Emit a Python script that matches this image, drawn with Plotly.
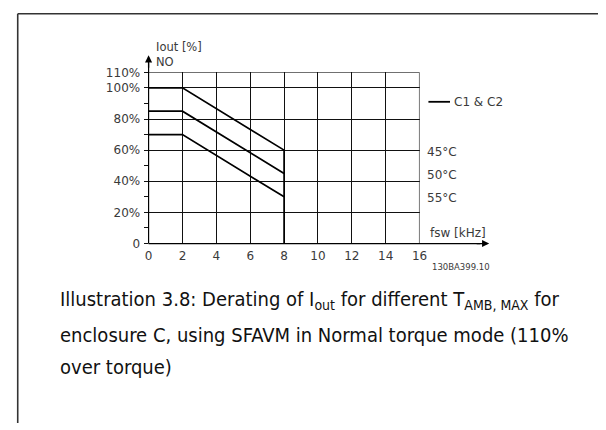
import plotly.graph_objects as go

W, H = 606, 430

# Derating curves: output current (% of nominal) vs switching frequency (kHz)
fsw_45 = [0, 2, 8, 8]
iout_45 = [100, 100, 60, 0]
fsw_50 = [0, 2, 8]
iout_50 = [85, 85, 45]
fsw_55 = [0, 2, 8]
iout_55 = [70, 70, 30]

temp_labels = ["45°C", "50°C", "55°C"]
x_ticks = [0, 2, 4, 6, 8, 10, 12, 14, 16]
y_ticks = [0, 20, 40, 60, 80, 100, 110]
y_tick_text = ["0", "20%", "40%", "60%", "80%", "100%", "110%"]
y_minor = [10, 30, 50, 70, 90]

caption_lines = [
    "Illustration 3.8: Derating of I<sub>out</sub> for different T<sub>AMB, MAX</sub> for",
    "enclosure C, using SFAVM in Normal torque mode (110%",
    "over torque)",
]

# plot area in pixels
X0, X1 = 147.5, 424.0
Y0, Y1 = 244.5, 67.5


def px(x):
    return x / W


def py(y):
    return 1 - y / H


fig = go.Figure()
for xs, ys in [(fsw_45, iout_45), (fsw_50, iout_50), (fsw_55, iout_55)]:
    fig.add_trace(go.Scatter(x=xs, y=ys, mode="lines",
                             line=dict(color="black", width=1.7),
                             showlegend=False, hoverinfo="skip"))

chart_font = "DejaVu Sans, Liberation Sans, Arial, sans-serif"
tick_font = dict(family=chart_font, size=12, color="#3a3a3a")

fig.update_layout(
    width=W, height=H,
    margin=dict(l=0, r=0, t=0, b=0),
    paper_bgcolor="white", plot_bgcolor="white",
    xaxis=dict(domain=[px(X0), px(X1)], range=[0, 16], tickvals=x_ticks,
               showgrid=True, gridcolor="#111", gridwidth=1, zeroline=False,
               showline=False, ticks="", tickfont=tick_font, ticklabelstandoff=3),
    yaxis=dict(domain=[py(Y0), py(Y1)], range=[0, 110], tickvals=y_ticks,
               ticktext=y_tick_text, showgrid=True, gridcolor="#111", gridwidth=1,
               zeroline=False, showline=False, ticks="outside", ticklen=4,
               tickcolor="#111", tickfont=tick_font, ticklabelstandoff=1,
               minor=dict(tickvals=y_minor, ticks="outside", ticklen=4,
                          tickcolor="#111", showgrid=False)),
)

shapes = []
# grid lines on the outer edges of the plot area
shapes.append(dict(type="line", xref="x", yref="y", x0=0, x1=16, y0=110, y1=110,
                   line=dict(color="#111", width=1)))
shapes.append(dict(type="line", xref="x", yref="y", x0=16, x1=16, y0=0, y1=110,
                   line=dict(color="#333", width=1.3)))
# frame
shapes.append(dict(type="line", xref="paper", yref="paper", x0=px(14), x1=1,
                   y0=py(7), y1=py(7), line=dict(color="#333", width=1.6)))
shapes.append(dict(type="line", xref="paper", yref="paper", x0=px(14), x1=px(14),
                   y0=py(7), y1=0, line=dict(color="#333", width=1.6)))
# axis lines extended beyond the grid
shapes.append(dict(type="line", xref="paper", yref="paper", x0=px(X0), x1=px(486),
                   y0=py(Y0), y1=py(Y0), line=dict(color="black", width=1.2)))
shapes.append(dict(type="line", xref="paper", yref="paper", x0=px(X0), x1=px(X0),
                   y0=py(Y0), y1=py(58), line=dict(color="black", width=1.2)))
# legend sample line
shapes.append(dict(type="line", xref="paper", yref="paper", x0=px(433), x1=px(455),
                   y0=py(98), y1=py(98), line=dict(color="black", width=1.8)))
fig.update_layout(shapes=shapes)

ann = []
# arrowheads
ann.append(dict(xref="paper", yref="paper", x=px(495), y=py(Y0), ax=-14, ay=0,
                showarrow=True, arrowhead=2, arrowsize=1.1, arrowwidth=1.3,
                arrowcolor="black", text=""))
ann.append(dict(xref="paper", yref="paper", x=px(X0), y=py(50), ax=0, ay=14,
                showarrow=True, arrowhead=2, arrowsize=1.1, arrowwidth=1.3,
                arrowcolor="black", text=""))


def label(x, y, text, size=12, xanchor="left"):
    ann.append(dict(xref="paper", yref="paper", x=px(x), y=py(y), text=text,
                    showarrow=False, xanchor=xanchor, yanchor="middle", align="left",
                    font=dict(family=chart_font, size=size, color="#3a3a3a")))


label(153, 49, "Iout [%]<br>NO", size=11.5)
label(457, 98, "C1 &amp; C2")
for t, yy in zip(temp_labels, [150, 174, 197]):
    label(430, yy, t)
label(433, 234, "fsw [kHz]")
label(466, 269, "130BA399.10", size=8.5, xanchor="center")

cap_font = dict(family="DejaVu Sans Condensed, Open Sans, sans-serif", size=20, color="#111")
for line, yy in zip(caption_lines, [303, 339, 372]):
    ann.append(dict(xref="paper", yref="paper", x=px(55), y=py(yy), text=line,
                    showarrow=False, xanchor="left", yanchor="middle", font=cap_font))

fig.update_layout(annotations=ann)
fig.write_html("out.html")
